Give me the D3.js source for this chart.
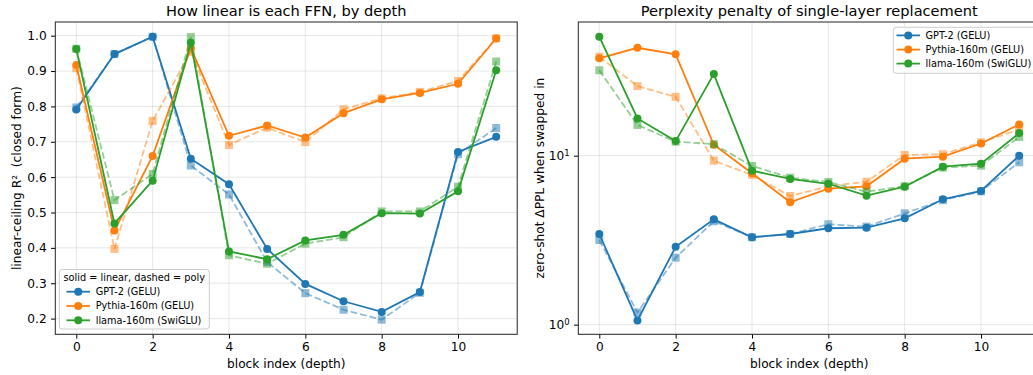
<!DOCTYPE html>
<html><head><meta charset="utf-8">
<script src="https://cdn.jsdelivr.net/npm/d3@7"></script>
<style>body{margin:0;background:#fff;} text{font-family:"DejaVu Sans",sans-serif;white-space:pre;}</style>
</head><body><svg id="c" width="1033" height="375"></svg>
<script>
const depth = [0,1,2,3,4,5,6,7,8,9,10,11];
const models = ["GPT-2 (GELU)","Pythia-160m (GELU)","llama-160m (SwiGLU)"];
const colors = ["#1f77b4","#ff7f0e","#2ca02c"];
// left: R^2 linear (solid) and poly (dashed)
const r2Linear = [
  [0.791,0.948,0.997,0.652,0.580,0.397,0.298,0.249,0.219,0.275,0.671,0.714],
  [0.917,0.449,0.660,0.965,0.717,0.746,0.712,0.781,0.820,0.838,0.864,0.992],
  [0.962,0.469,0.590,0.980,0.390,0.368,0.421,0.437,0.498,0.497,0.560,0.902]
];
const r2Poly = [
  [0.797,0.948,0.997,0.633,0.551,0.360,0.272,0.225,0.197,0.273,0.665,0.739],
  [0.908,0.397,0.759,0.955,0.691,0.740,0.699,0.792,0.823,0.841,0.872,0.993],
  [0.963,0.535,0.609,0.996,0.379,0.355,0.412,0.430,0.503,0.503,0.573,0.927]
];
// right: delta PPL
const pplLinear = [
  [3.44,1.06,2.89,4.20,3.29,3.44,3.72,3.75,4.26,5.52,6.18,10.0],
  [37.7,43.5,39.8,11.6,7.87,5.30,6.38,6.59,9.60,9.87,11.8,15.3],
  [50.6,16.6,12.2,30.4,8.15,7.28,6.82,5.80,6.55,8.61,8.97,13.6]
];
const pplPoly = [
  [3.17,1.18,2.49,4.09,3.29,3.44,3.93,3.80,4.56,5.45,6.15,9.14],
  [38.5,25.8,22.3,9.34,7.70,5.77,6.60,7.01,10.1,10.2,12.0,14.3],
  [32.0,15.2,12.1,11.7,8.69,7.41,6.99,6.12,6.60,8.50,8.73,12.9]
];
const xTicks = [0,2,4,6,8,10];
const r2Ticks = [0.2,0.3,0.4,0.5,0.6,0.7,0.8,0.9,1.0];
const pplTicks = [1,10];

const svg = d3.select("#c");
const yTop = 22, yBot = 334.3, W = 461.9;
const FS = 12.2, FT = 14.6, FL = 9.75;

function panel(x0, y, ylab, title, linVals, polyVals, yTicks, tickFmt, isLog){
  const x = d3.scaleLinear().domain([-0.55,11.55]).range([x0, x0+W]);
  const g = svg.append("g");
  const clipId = "clip"+Math.round(x0);
  svg.append("clipPath").attr("id",clipId).append("rect")
     .attr("x",x0).attr("y",yTop).attr("width",W).attr("height",yBot-yTop);
  // grid
  g.selectAll(".gx").data(xTicks).join("line")
    .attr("x1",d=>x(d)).attr("x2",d=>x(d)).attr("y1",yTop).attr("y2",yBot)
    .attr("stroke","#b0b0b0").attr("stroke-opacity",0.3).attr("stroke-width",1);
  g.selectAll(".gy").data(yTicks).join("line")
    .attr("x1",x0).attr("x2",x0+W).attr("y1",d=>y(d)).attr("y2",d=>y(d))
    .attr("stroke","#b0b0b0").attr("stroke-opacity",0.3).attr("stroke-width",1);
  const pg = g.append("g").attr("clip-path",`url(#${clipId})`);
  const line = d3.line().x((d,i)=>x(depth[i])).y(d=>y(d));
  models.forEach((m,k)=>{
    pg.append("path").datum(linVals[k]).attr("d",line).attr("fill","none")
      .attr("stroke",colors[k]).attr("stroke-width",1.8);
    pg.selectAll(null).data(linVals[k]).join("circle")
      .attr("cx",(d,i)=>x(depth[i])).attr("cy",d=>y(d)).attr("r",4).attr("fill",colors[k]);
    pg.append("path").datum(polyVals[k]).attr("d",line).attr("fill","none")
      .attr("stroke",colors[k]).attr("stroke-width",1.8).attr("stroke-opacity",0.5)
      .attr("stroke-dasharray","6.8,2.9");
    pg.selectAll(null).data(polyVals[k]).join("rect")
      .attr("x",(d,i)=>x(depth[i])-4).attr("y",d=>y(d)-4).attr("width",8).attr("height",8)
      .attr("fill",colors[k]).attr("fill-opacity",0.5);
  });
  // axes
  const ax = g.append("g").attr("transform",`translate(0,${yBot})`)
    .call(d3.axisBottom(x).tickValues(xTicks).tickSize(4.3).tickPadding(4));
  const ay = g.append("g").attr("transform",`translate(${x0},0)`)
    .call(d3.axisLeft(y).tickValues(yTicks).tickSize(4.3).tickPadding(4.3).tickFormat(isLog?()=>"":tickFmt));
  [ax,ay].forEach(a=>{
    a.select(".domain").remove();
    a.selectAll("line").attr("stroke","#000").attr("stroke-width",1);
    a.selectAll("text").attr("font-size",FS).attr("fill","#000").attr("font-family","DejaVu Sans");
  });
  if(isLog){
    ay.selectAll(".tick").append("text").attr("x",-8.6).attr("dy","0.32em")
      .attr("text-anchor","end").attr("font-size",FS).attr("fill","#000")
      .each(function(d){
        const t=d3.select(this);
        t.append("tspan").text("10");
        t.append("tspan").attr("dy","-0.5em").attr("font-size",8.5).text(Math.round(Math.log10(d)));
      });
  }
  g.append("rect").attr("x",x0).attr("y",yTop).attr("width",W).attr("height",yBot-yTop)
    .attr("fill","none").attr("stroke","#222").attr("stroke-width",1);
  g.append("text").attr("x",x0+W/2).attr("y",15.5).attr("text-anchor","middle")
    .attr("font-size",FT).text(title);
  g.append("text").attr("x",x(5.5)).attr("y",367.5).attr("text-anchor","middle")
    .attr("font-size",FS).text("block index (depth)");
  g.append("text").attr("transform",`translate(${x0-38.5},${(yTop+yBot)/2}) rotate(-90)`)
    .attr("text-anchor","middle").attr("dy","0.35em").attr("font-size",FS).text(ylab);
  return g;
}

const yL = d3.scaleLinear().domain([0.1556,1.0387]).range([yBot,yTop]);
panel(55.3, yL, "linear-ceiling R²  (closed form)", "How linear is each FFN, by depth",
      r2Linear, r2Poly, r2Ticks, d3.format(".1f"), false);
const yR = d3.scaleLog().domain([0.877,61.8]).range([yBot,yTop]);
panel(578.3, yR, "zero-shot ΔPPL when swapped in", "Perplexity penalty of single-layer replacement",
      pplLinear, pplPoly, pplTicks, null, true);

function legend(x0,y0,w,h,title,rowY,handleX,textX){
  const g = svg.append("g");
  g.append("rect").attr("x",x0).attr("y",y0).attr("width",w).attr("height",h).attr("rx",3)
    .attr("fill","#fff").attr("fill-opacity",0.8).attr("stroke","#cccccc").attr("stroke-width",1);
  if(title) g.append("text").attr("x",title[1]).attr("y",title[2]).attr("dy","0.35em")
    .attr("font-size",FL).text(title[0]);
  models.forEach((m,k)=>{
    const yy=rowY[k];
    g.append("line").attr("x1",handleX[0]).attr("x2",handleX[1]).attr("y1",yy).attr("y2",yy)
      .attr("stroke",colors[k]).attr("stroke-width",1.8);
    g.append("circle").attr("cx",(handleX[0]+handleX[1])/2).attr("cy",yy).attr("r",4).attr("fill",colors[k]);
    g.append("text").attr("x",textX).attr("y",yy).attr("dy","0.35em").attr("font-size",FL).text(m);
  });
}
legend(59.3,269.5,150,59.5,["solid = linear, dashed = poly",63.5,277.9],[291.7,306,320.3],[66.5,90],95.7);
legend(893.3,27.3,146,46,null,[35.4,49.6,63.6],[896.5,920],925.5);
</script></body></html>
